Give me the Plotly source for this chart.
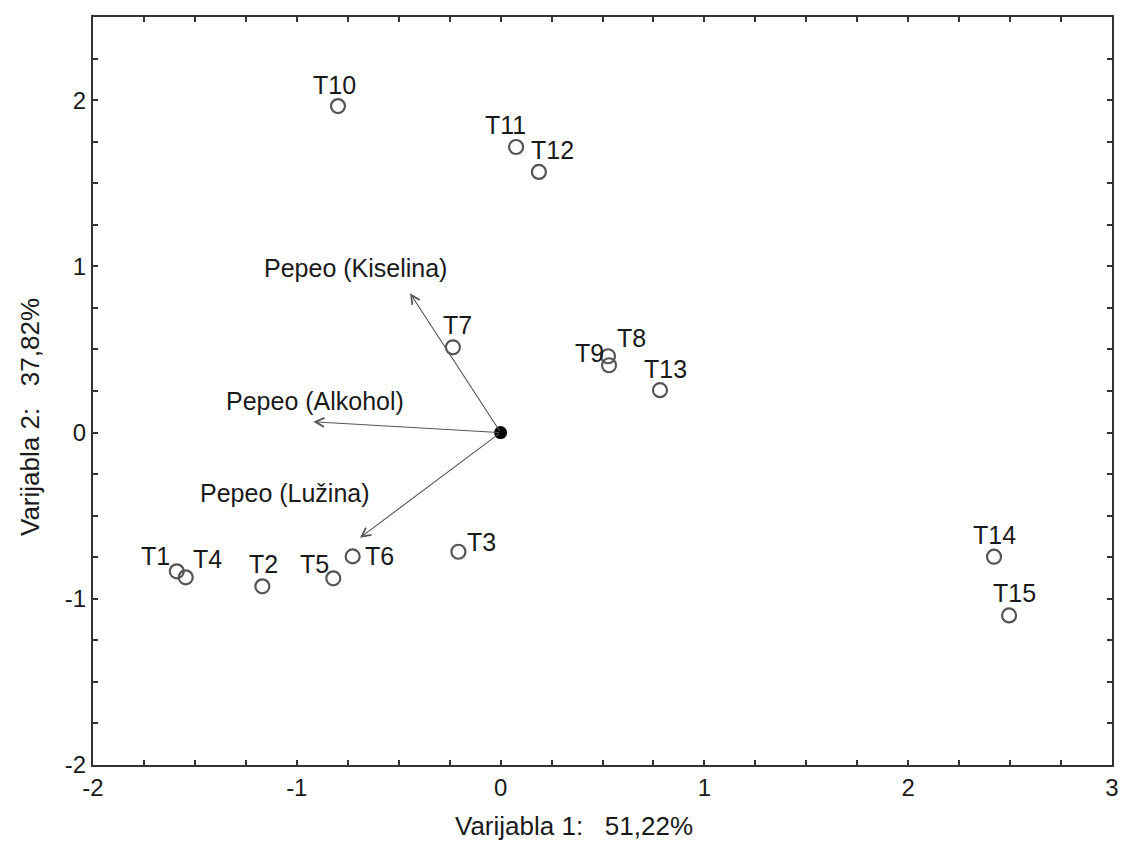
import plotly.graph_objects as go
import numpy as np

# Sample scores
names = ["T1", "T2", "T3", "T4", "T5", "T6", "T7", "T8", "T9", "T10",
         "T11", "T12", "T13", "T14", "T15"]
score_x = [-1.589, -1.169, -0.207, -1.545, -0.821, -0.726, -0.234, 0.527, 0.532, -0.798,
           0.076, 0.188, 0.782, 2.421, 2.495]
score_y = [-0.835, -0.925, -0.717, -0.871, -0.877, -0.745, 0.513, 0.459, 0.405, 1.964,
           1.718, 1.568, 0.255, -0.747, -1.100]

# Variable loadings (arrows)
var_names = ["Pepeo (Kiselina)", "Pepeo (Alkohol)", "Pepeo (Lužina)"]
var_x = [-0.444, -0.919, -0.690]
var_y = [0.838, 0.065, -0.633]
var_label_x = [-0.712, -0.911, -1.058]
var_label_y = [0.987, 0.189, -0.361]

x_title = "Varijabla 1:   51,22%"
y_title = "Varijabla 2:   37,82%"

# label offsets in pixels (style)
label_offsets = {
    "T1": (-21, 15), "T2": (1, 22), "T3": (23, 10), "T4": (22, 18), "T5": (-19, 14),
    "T6": (27, 0), "T7": (5, 22), "T8": (23, 18), "T9": (-20, 12), "T10": (-3, 21),
    "T11": (-11, 22), "T12": (14, 22), "T13": (6, 21), "T14": (0, 22), "T15": (5, 22),
}

FONT = "Liberation Sans, Arial, sans-serif"
TXT = "#1a1a1a"

fig = go.Figure()

fig.add_trace(go.Scatter(
    x=score_x, y=score_y, mode="markers",
    marker=dict(symbol="circle-open", size=14, color="#555555", line=dict(width=2.2, color="#555555")),
    hoverinfo="text", text=names, showlegend=False,
))

fig.add_trace(go.Scatter(
    x=[0], y=[0], mode="markers",
    marker=dict(symbol="circle", size=13, color="black"),
    showlegend=False, hoverinfo="skip",
))

annotations = []
for vx, vy in zip(var_x, var_y):
    annotations.append(dict(
        x=vx, y=vy, ax=0, ay=0, xref="x", yref="y", axref="x", ayref="y",
        showarrow=True, arrowhead=5, arrowsize=1.6, arrowwidth=1.1,
        arrowcolor="#555555", text="", standoff=0,
    ))
for name, lx, ly in zip(var_names, var_label_x, var_label_y):
    annotations.append(dict(
        x=lx, y=ly, xref="x", yref="y", text=name, showarrow=False,
        font=dict(family=FONT, size=25, color=TXT),
    ))
for name, px, py in zip(names, score_x, score_y):
    dx, dy = label_offsets[name]
    annotations.append(dict(
        x=px, y=py, xref="x", yref="y", text=name, showarrow=False,
        xshift=dx, yshift=dy,
        font=dict(family=FONT, size=25, color=TXT),
    ))

# axis titles as annotations (positioned like the original)
annotations.append(dict(
    x=0.472, y=-0.082, xref="paper", yref="paper", text=x_title, showarrow=False,
    xanchor="center", yanchor="middle",
    font=dict(family=FONT, size=26, color=TXT),
))
annotations.append(dict(
    x=-0.062, y=0.465, xref="paper", yref="paper", text=y_title, showarrow=False,
    xanchor="center", yanchor="middle", textangle=-90,
    font=dict(family=FONT, size=26, color=TXT),
))

xt = list(np.arange(-2, 3.001, 0.25))
yt = list(np.arange(-2, 2.501, 0.25))

def lbl(v):
    return f"{int(round(v))}" if abs(v - round(v)) < 1e-9 else ""

fig.update_layout(
    width=1118, height=847,
    margin=dict(l=85, r=14, t=7, b=90),
    paper_bgcolor="white", plot_bgcolor="white",
    font=dict(family=FONT, size=24, color=TXT),
    annotations=annotations,
    xaxis=dict(
        range=[-2, 3], tickvals=xt, ticktext=[lbl(v) for v in xt],
        ticks="inside", ticklen=5, tickwidth=1.5, tickcolor="#333333",
        showline=True, linecolor="#333333", linewidth=2, mirror="allticks",
        showgrid=False, zeroline=False,
        tickfont=dict(family=FONT, size=24, color=TXT),
    ),
    yaxis=dict(
        range=[-2, 2.5], tickvals=yt, ticktext=[lbl(v) for v in yt],
        ticks="inside", ticklen=5, tickwidth=1.5, tickcolor="#333333",
        showline=True, linecolor="#333333", linewidth=2, mirror="allticks",
        showgrid=False, zeroline=False,
        tickfont=dict(family=FONT, size=24, color=TXT),
    ),
)

fig.write_html("out.html")
